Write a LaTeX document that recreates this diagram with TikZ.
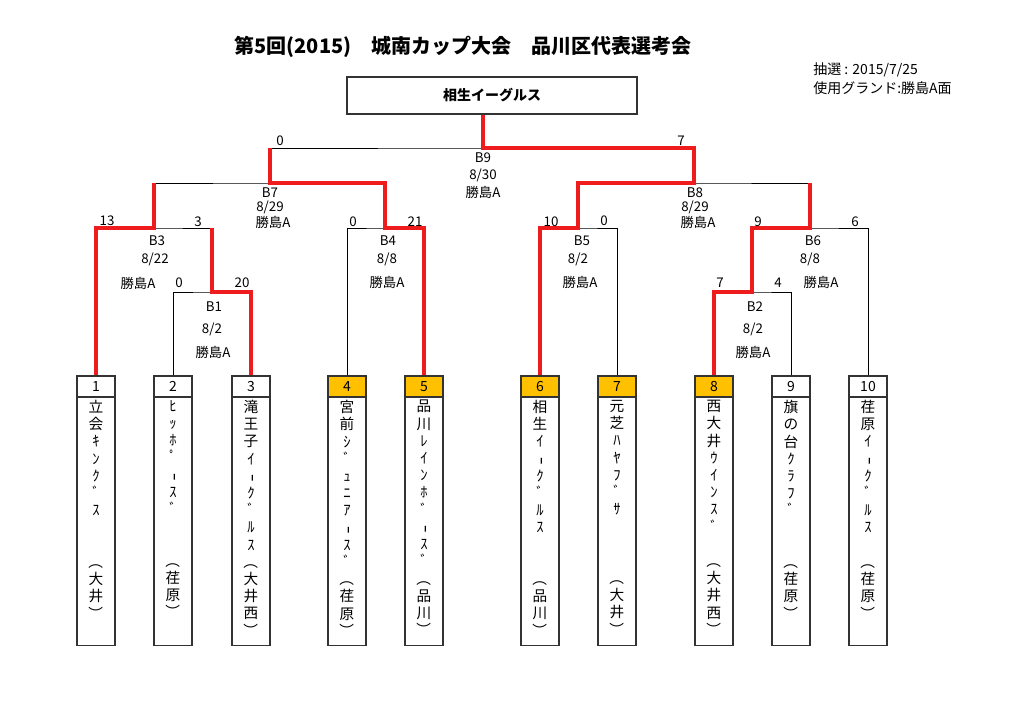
\documentclass[tikz,border=0pt]{standalone}
\usepackage{fontspec}
\setmainfont{Noto Sans CJK JP}
\definecolor{tourred}{HTML}{EE1C1C}
\definecolor{seedgold}{HTML}{FFC000}
\newcommand{\tatechar}[1]{\rotatebox[origin=c]{-90}{#1}}
\begin{document}
\begin{tikzpicture}[x=0.75pt,y=-0.75pt,
  numcell/.style={draw=black!80,line width=0.9pt,minimum width=28.5pt,minimum height=15.75pt,inner sep=0pt,font=\fontsize{10.5}{12}\selectfont},
  namecell/.style={draw=black!80,line width=0.9pt,minimum width=28.5pt,minimum height=186pt,inner sep=0pt,anchor=north},
  namestack/.style={anchor=north,align=center,inner sep=0pt,font=\fontsize{11}{12.9}\selectfont},
  seed/.style={fill=seedgold},
  bracket/.style={line width=0.75pt},
  winner/.style={draw=tourred,line width=2.4pt},
  match/.style={font=\fontsize{10}{12}\selectfont,inner sep=0pt}]
\fill[white] (0,0) rectangle (1024,724);
\useasboundingbox (0,0) rectangle (1024,724);
% title and notes
\node[font=\bfseries\fontsize{15}{18}\selectfont] (title) at (463,47) {第5回(2015)　城南カップ大会　品川区代表選考会};
\node[anchor=west,inner sep=0pt,font=\fontsize{10.5}{12}\selectfont] (lottery) at (813,70) {抽選 : 2015/7/25};
\node[anchor=west,inner sep=0pt,font=\fontsize{10.5}{12}\selectfont] (ground) at (813,88) {使用グランド:勝島A面};
\node[draw=black!80,line width=0.9pt,minimum width=217.5pt,minimum height=27.75pt,font=\bfseries\fontsize{10.5}{12}\selectfont] (champ) at (492,95.5) {相生イーグルス};
% team boxes
\node[namecell] (c1) at (96,397) {};
\node[namecell] (c2) at (173,397) {};
\node[namecell] (c3) at (251,397) {};
\node[namecell] (c4) at (347,397) {};
\node[namecell] (c5) at (424,397) {};
\node[namecell] (c6) at (540,397) {};
\node[namecell] (c7) at (617,397) {};
\node[namecell] (c8) at (714,397) {};
\node[namecell] (c9) at (791,397) {};
\node[namecell] (c10) at (868,397) {};
\node[numcell] (n1) at (96,386.5) {1};
\node[numcell] (n2) at (173,386.5) {2};
\node[numcell] (n3) at (251,386.5) {3};
\node[numcell,seed] (n4) at (347,386.5) {4};
\node[numcell,seed] (n5) at (424,386.5) {5};
\node[numcell,seed] (n6) at (540,386.5) {6};
\node[numcell,seed] (n7) at (617,386.5) {7};
\node[numcell,seed] (n8) at (714,386.5) {8};
\node[numcell] (n9) at (791,386.5) {9};
\node[numcell] (n10) at (868,386.5) {10};
% team names, one character per row
\node[namestack] (t1) at (96,400) {立\\会\\ｷ\\ﾝ\\ｸ\\ﾞ\\ｽ\\\mbox{}\\\mbox{}\\\tatechar{（}\\大\\井\\\tatechar{）}};
\node[namestack] (t2) at (173,400) {ﾋ\\ｯ\\ﾎ\\ﾟ\\\tatechar{ｰ}\\ｽ\\ﾞ\\\mbox{}\\\mbox{}\\\tatechar{（}\\荏\\原\\\tatechar{）}};
\node[namestack] (t3) at (251,400) {滝\\王\\子\\ｲ\\\tatechar{ｰ}\\ｸ\\ﾞ\\ﾙ\\ｽ\\\tatechar{（}\\大\\井\\西\\\tatechar{）}};
\node[namestack] (t4) at (347,400) {宮\\前\\ｼ\\ﾞ\\ｭ\\ﾆ\\ｱ\\\tatechar{ｰ}\\ｽ\\ﾞ\\\tatechar{（}\\荏\\原\\\tatechar{）}};
\node[namestack] (t5) at (424,400) {品\\川\\ﾚ\\ｲ\\ﾝ\\ﾎ\\ﾞ\\\tatechar{ｰ}\\ｽ\\ﾞ\\\tatechar{（}\\品\\川\\\tatechar{）}};
\node[namestack] (t6) at (540,400) {相\\生\\ｲ\\\tatechar{ｰ}\\ｸ\\ﾞ\\ﾙ\\ｽ\\\mbox{}\\\mbox{}\\\tatechar{（}\\品\\川\\\tatechar{）}};
\node[namestack] (t7) at (617,400) {元\\芝\\ﾊ\\ﾔ\\ﾌ\\ﾞ\\ｻ\\\mbox{}\\\mbox{}\\\mbox{}\\\tatechar{（}\\大\\井\\\tatechar{）}};
\node[namestack] (t8) at (714,400) {西\\大\\井\\ｳ\\ｲ\\ﾝ\\ｽ\\ﾞ\\\mbox{}\\\tatechar{（}\\大\\井\\西\\\tatechar{）}};
\node[namestack] (t9) at (791,400) {旗\\の\\台\\ｸ\\ﾗ\\ﾌ\\ﾞ\\\mbox{}\\\mbox{}\\\tatechar{（}\\荏\\原\\\tatechar{）}};
\node[namestack] (t10) at (868,400) {荏\\原\\ｲ\\\tatechar{ｰ}\\ｸ\\ﾞ\\ﾙ\\ｽ\\\mbox{}\\\tatechar{（}\\荏\\原\\\tatechar{）}};
% match points
\coordinate (b1) at (212,292);
\coordinate (b2) at (752,292);
\coordinate (b3) at (154,228);
\coordinate (b4) at (385,228);
\coordinate (b5) at (578,228);
\coordinate (b6) at (810,228);
\coordinate (b7) at (270,183);
\coordinate (b8) at (694,183);
\coordinate (b9) at (483,148);
% bracket
\draw[bracket] (n2.north) |- (b1) -| (n3.north);
\draw[bracket] (n1.north) |- (b3) -| (b1);
\draw[bracket] (n4.north) |- (b4) -| (n5.north);
\draw[bracket] (b3) |- (b7) -| (b4);
\draw[bracket] (n6.north) |- (b5) -| (n7.north);
\draw[bracket] (n8.north) |- (b2) -| (n9.north);
\draw[bracket] (b2) |- (b6) -| (n10.north);
\draw[bracket] (b5) |- (b8) -| (b6);
\draw[bracket] (b7) |- (b9) -| (b8);
% winners
\draw[winner] (n1.north) |- (b3) -- (b3 |- b7);
\draw[winner] (n3.north) |- (b1) -- (b1 |- b3);
\draw[winner] (n5.north) |- (b4) |- (b7) -- (b7 |- b9);
\draw[winner] (n6.north) |- (b5) |- (b8) |- (b9) -- (champ.south -| b9);
\draw[winner] (n8.north) |- (b2) |- (b6) -- (b6 |- b8);
% scores
\node[match] (b9l) at (280,141) {0};
\node[match] (b9r) at (681,141) {7};
\node[match] (b3l) at (107,221) {13};
\node[match] (b3r) at (198,222) {3};
\node[match] (b4l) at (353,222) {0};
\node[match] (b4r) at (415,222) {21};
\node[match] (b5l) at (551,222) {10};
\node[match] (b5r) at (604,221) {0};
\node[match] (b6l) at (758,222) {9};
\node[match] (b6r) at (855,222) {6};
\node[match] (b1l) at (179,283) {0};
\node[match] (b1r) at (242,283) {20};
\node[match] (b2l) at (720,283) {7};
\node[match] (b2r) at (778,283) {4};
% match labels
\node[match] (b9id) at (483,158) {B9};
\node[match] (b9day) at (483,175) {8/30};
\node[match] (b9at) at (483,192) {勝島A};
\node[match] (b7id) at (270,193) {B7};
\node[match] (b7day) at (270,207) {8/29};
\node[match] (b7at) at (273,222) {勝島A};
\node[match] (b8id) at (695,193) {B8};
\node[match] (b8day) at (695,207) {8/29};
\node[match] (b8at) at (698,222) {勝島A};
\node[match] (b3id) at (157,241) {B3};
\node[match] (b3day) at (155,259) {8/22};
\node[match] (b3at) at (138,283) {勝島A};
\node[match] (b4id) at (388,241) {B4};
\node[match] (b4day) at (387,259) {8/8};
\node[match] (b4at) at (387,282) {勝島A};
\node[match] (b5id) at (582,241) {B5};
\node[match] (b5day) at (578,259) {8/2};
\node[match] (b5at) at (580,282) {勝島A};
\node[match] (b6id) at (813,241) {B6};
\node[match] (b6day) at (810,259) {8/8};
\node[match] (b6at) at (821,282) {勝島A};
\node[match] (b1id) at (214,307) {B1};
\node[match] (b1day) at (212,329) {8/2};
\node[match] (b1at) at (213,352) {勝島A};
\node[match] (b2id) at (755,307) {B2};
\node[match] (b2day) at (753,329) {8/2};
\node[match] (b2at) at (753,352) {勝島A};
\end{tikzpicture}
\end{document}
